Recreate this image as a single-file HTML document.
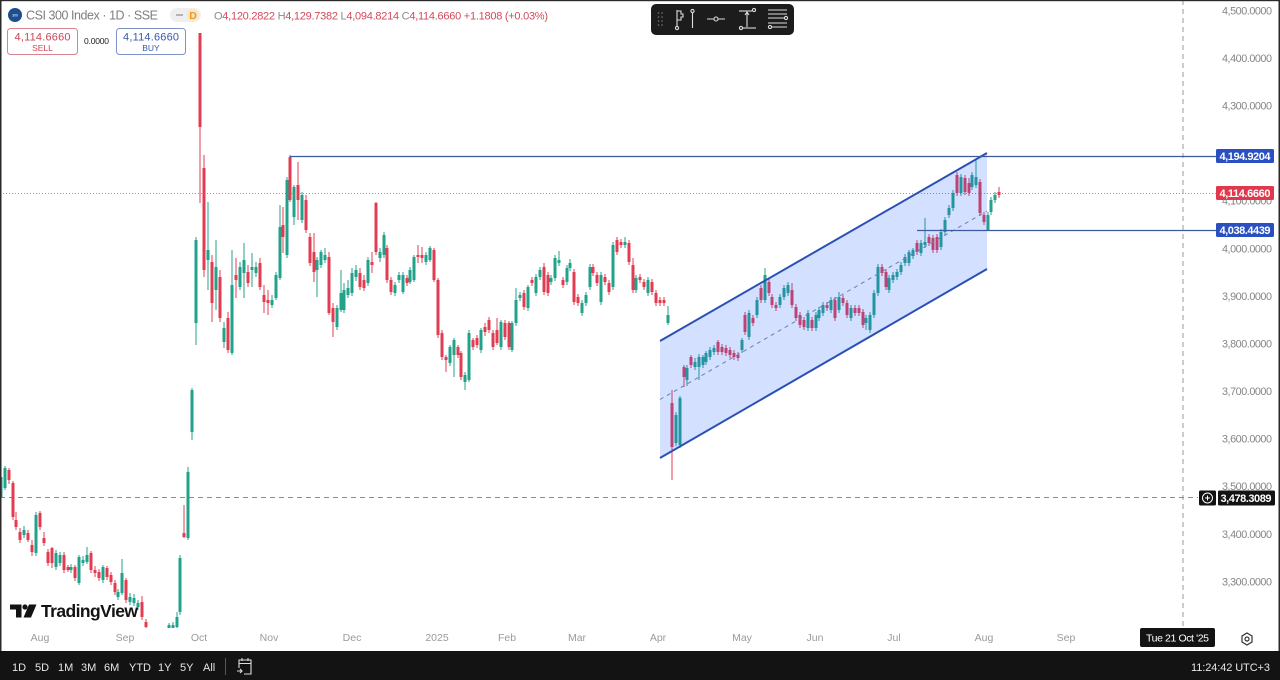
<!DOCTYPE html>
<html><head><meta charset="utf-8"><style>
html,body{margin:0;padding:0;background:#fff;}
svg{display:block;}
text{font-family:"Liberation Sans",sans-serif;}
</style></head><body>
<svg id="s" width="1280" height="680" viewBox="0 0 1280 680" xmlns="http://www.w3.org/2000/svg">
<defs><clipPath id="cp"><rect x="0" y="0" width="1214" height="628"/></clipPath></defs>
<rect x="0" y="0" width="1280" height="680" fill="#fff"/>
<!-- crosshair -->
<line x1="1183" y1="0" x2="1183" y2="628" stroke="#9a9a9a" stroke-width="1" stroke-dasharray="5,4"/>
<line x1="0" y1="497.5" x2="1198" y2="497.5" stroke="#8a8a8a" stroke-width="1" stroke-dasharray="5,4"/>
<!-- last price dotted -->
<line x1="0" y1="193.5" x2="1216" y2="193.5" stroke="#c77f8a" stroke-width="1" stroke-dasharray="1,2"/>
<g id="candles" clip-path="url(#cp)"></g>
<!-- channel -->
<polygon points="660,341 987,153 987,269 660,458" fill="rgba(41,98,255,0.2)"/>
<line x1="660" y1="341" x2="987" y2="153" stroke="#2b50b5" stroke-width="2"/>
<line x1="660" y1="458" x2="987" y2="269" stroke="#2b50b5" stroke-width="2"/>
<line x1="660" y1="399.5" x2="987" y2="211" stroke="#6a7fb0" stroke-width="1" stroke-dasharray="4,4"/>
<!-- horizontal lines -->
<line x1="290" y1="156.5" x2="1216" y2="156.5" stroke="#3d5a9e" stroke-width="1.3"/>
<line x1="917" y1="230.5" x2="1216" y2="230.5" stroke="#3d5a9e" stroke-width="1.3"/>
<!-- price axis labels -->
<g fill="#858585" font-size="10.8">
<text x="1222" y="14.4" textLength="50">4,500.0000</text>
<text x="1222" y="62" textLength="50">4,400.0000</text>
<text x="1222" y="109.6" textLength="50">4,300.0000</text>
<text x="1222" y="157.1" textLength="50">4,200.0000</text>
<text x="1222" y="204.7" textLength="50">4,100.0000</text>
<text x="1222" y="252.3" textLength="50">4,000.0000</text>
<text x="1222" y="299.9" textLength="50">3,900.0000</text>
<text x="1222" y="347.4" textLength="50">3,800.0000</text>
<text x="1222" y="395" textLength="50">3,700.0000</text>
<text x="1222" y="442.6" textLength="50">3,600.0000</text>
<text x="1222" y="490.2" textLength="50">3,500.0000</text>
<text x="1222" y="537.8" textLength="50">3,400.0000</text>
<text x="1222" y="585.4" textLength="50">3,300.0000</text>
</g>
<!-- price tags -->
<rect x="1216" y="149" width="58" height="14" rx="1.5" fill="#2a4fc0"/>
<text x="1245" y="160" fill="#fff" font-size="11" text-anchor="middle" textLength="51" style="font-weight:600">4,194.9204</text>
<rect x="1216" y="186" width="58" height="14" rx="1.5" fill="#e0394e"/>
<text x="1245" y="197" fill="#fff" font-size="11" text-anchor="middle" textLength="51" style="font-weight:600">4,114.6660</text>
<rect x="1216" y="223" width="58" height="14" rx="1.5" fill="#2a4fc0"/>
<text x="1245" y="234" fill="#fff" font-size="11" text-anchor="middle" textLength="51" style="font-weight:600">4,038.4439</text>
<rect x="1199" y="490.5" width="17" height="15" rx="1.5" fill="#131313"/>
<circle cx="1207.5" cy="498" r="5" fill="none" stroke="#fff" stroke-width="1"/>
<line x1="1205" y1="498" x2="1210" y2="498" stroke="#fff" stroke-width="1"/>
<line x1="1207.5" y1="495.5" x2="1207.5" y2="500.5" stroke="#fff" stroke-width="1"/>
<rect x="1218" y="490.5" width="57" height="15" rx="1.5" fill="#131313"/>
<text x="1246" y="502" fill="#fff" font-size="11" text-anchor="middle" textLength="51" style="font-weight:600">3,478.3089</text>
<!-- time axis -->
<g fill="#9a9a9a" font-size="10.5" text-anchor="middle">
<text x="40" y="641">Aug</text>
<text x="125" y="641">Sep</text>
<text x="199" y="641">Oct</text>
<text x="269" y="641">Nov</text>
<text x="352" y="641">Dec</text>
<text x="437" y="641">2025</text>
<text x="507" y="641">Feb</text>
<text x="577" y="641">Mar</text>
<text x="658" y="641">Apr</text>
<text x="742" y="641">May</text>
<text x="815" y="641">Jun</text>
<text x="894" y="641">Jul</text>
<text x="984" y="641">Aug</text>
<text x="1066" y="641">Sep</text>
</g>
<rect x="1140" y="628" width="75" height="19" rx="2" fill="#131313"/>
<text x="1177.5" y="641.5" fill="#fff" font-size="10.5" text-anchor="middle" textLength="63">Tue 21 Oct '25</text>
<polygon points="1247,633 1252,636 1252,642 1247,645 1242,642 1242,636" fill="none" stroke="#333" stroke-width="1.2"/>
<circle cx="1247" cy="639" r="2" fill="none" stroke="#333" stroke-width="1.2"/>
<!-- watermark -->
<g fill="#131313">
<path d="M10 604.5 H21.5 V617.5 H16 V609.5 H10 Z"/>
<circle cx="25" cy="607" r="2.6"/>
<path d="M29 604.5 H36.5 L31 617.5 H23.5 Z"/>
</g>
<text x="41" y="617" font-size="17.5" font-weight="bold" fill="#131313" textLength="97">TradingView</text>
<!-- header -->
<circle cx="15" cy="15" r="7" fill="#1c4f8f"/>
<text x="15" y="16.5" font-size="3.5" fill="#fff" text-anchor="middle">300</text>
<text x="26" y="19.5" font-size="12.5" fill="#7e7e7e" textLength="132">CSI 300 Index · 1D · SSE</text>
<rect x="170" y="8" width="31" height="14" rx="7" fill="#efefef"/>
<line x1="176" y1="15" x2="183" y2="15" stroke="#9a9a9a" stroke-width="1.4"/>
<circle cx="193" cy="15" r="6" fill="#fbe6bd"/>
<text x="193" y="19" font-size="10.5" font-weight="bold" fill="#e59a2a" text-anchor="middle">D</text>
<text x="214" y="19.5" font-size="11" textLength="334" fill="#d24a5a"><tspan fill="#8a8a8a">O</tspan>4,120.2822 <tspan fill="#8a8a8a">H</tspan>4,129.7382 <tspan fill="#8a8a8a">L</tspan>4,094.8214 <tspan fill="#8a8a8a">C</tspan>4,114.6660 +1.1808 (+0.03%)</text>
<rect x="7.5" y="28.5" width="70" height="26" rx="3" fill="#fff" stroke="#d98290" stroke-width="1"/>
<text x="42.5" y="40.5" font-size="11" fill="#cf4356" text-anchor="middle" textLength="56">4,114.6660</text>
<text x="42.5" y="51" font-size="8.5" fill="#cf4356" text-anchor="middle">SELL</text>
<text x="84" y="44" font-size="8.5" fill="#222" textLength="25">0.0000</text>
<rect x="116.5" y="28.5" width="69" height="26" rx="3" fill="#fff" stroke="#7d93c7" stroke-width="1"/>
<text x="151" y="40.5" font-size="11" fill="#3558b0" text-anchor="middle" textLength="56">4,114.6660</text>
<text x="151" y="51" font-size="8.5" fill="#3558b0" text-anchor="middle">BUY</text>
<!-- toolbar -->
<rect x="651" y="4" width="143" height="31" rx="5" fill="#1c1c1c"/>
<g fill="#777"><circle cx="658.5" cy="13" r="0.8"/><circle cx="662" cy="13" r="0.8"/><circle cx="658.5" cy="17" r="0.8"/><circle cx="662" cy="17" r="0.8"/><circle cx="658.5" cy="21" r="0.8"/><circle cx="662" cy="21" r="0.8"/><circle cx="658.5" cy="25" r="0.8"/><circle cx="662" cy="25" r="0.8"/></g>
<g fill="none" stroke="#ddd" stroke-width="1.1">
<path d="M677 10 V26 M677 11 H681 V14 H683 V17 H681 V20 H677"/>
<circle cx="677" cy="28" r="1.6"/>
<circle cx="692.5" cy="11" r="1.6"/><path d="M692.5 13 V28"/>
<path d="M707 19 H714 M718 19 H725"/><circle cx="716" cy="19" r="2"/>
<path d="M739 11 H752"/><circle cx="754" cy="10" r="1.6"/>
<path d="M747 12 V27 M745 15 L747 12 L749 15"/>
<path d="M743 28 H756"/><circle cx="741" cy="28" r="1.6"/>
<path d="M768 10 H787 M768 14 H787 M768 18 H784 M768 23 H787 M772 27 H787"/>
<circle cx="786" cy="18" r="1.6"/><circle cx="770" cy="27" r="1.6"/>
</g>
<!-- bottom bar -->
<rect x="0" y="651" width="1280" height="29" fill="#131313"/>
<g fill="#e6e6e6" font-size="11">
<text x="12" y="671">1D</text>
<text x="35" y="671">5D</text>
<text x="58" y="671">1M</text>
<text x="81" y="671">3M</text>
<text x="104" y="671">6M</text>
<text x="129" y="671">YTD</text>
<text x="158" y="671">1Y</text>
<text x="180" y="671">5Y</text>
<text x="203" y="671">All</text>
<text x="1191" y="671" textLength="79">11:24:42 UTC+3</text>
</g>
<line x1="225.5" y1="658" x2="225.5" y2="675" stroke="#555" stroke-width="1"/>
<g fill="none" stroke="#ddd" stroke-width="1.1">
<path d="M239 668 V660 H251 V674 H244"/>
<path d="M239 663.5 H251 M242 658 V661 M248 658 V661"/>
<path d="M237 671 H242 M240 669 L242 671 L240 673"/>
</g>
<!-- frame -->
<rect x="0" y="0" width="1.5" height="651" fill="#2a2a2a"/>
<rect x="0" y="0" width="1280" height="1.2" fill="#2a2a2a"/>
<rect x="1278.5" y="0" width="1.5" height="651" fill="#2a2a2a"/>
</svg>
<script>
(function(){
var D="1,g,477,497,472,500;5,g,468,488,466,490;9,r,470,480,468,484;13,r,483,517,481,520;16,r,520,527,512,530;20,r,532,540,528,543;24,g,530,535,526,538;28,r,533,540,530,542;32,r,545,552,540,556;36,g,515,553,512,556;40,r,513,527,511,530;44,r,538,543,532,546;48,r,552,563,549,566;52,r,548,563,547,568;56,g,553,567,550,570;60,g,555,563,552,566;64,r,555,570,552,573;68,r,567,570,565,572;71,g,567,570,564,573;75,r,567,578,565,581;79,g,557,583,555,585;83,g,560,563,556,566;87,g,555,562,547,564;91,r,553,570,551,573;95,r,570,573,566,577;99,r,572,578,569,581;103,g,567,580,565,583;107,r,568,577,566,580;111,r,575,582,572,585;115,r,583,592,580,595;118,g,592,597,589,600;122,g,573,593,559,595;126,r,580,600,578,603;130,g,597,602,593,605;134,g,598,603,594,606;138,g,603,607,600,610;142,r,602,617,596,620;146,r,622,627,619,640;169,g,625,630,623,640;173,g,625,632,622,640;177,g,617,627,612,632;180,g,558,612,555,615;184,r,533,537,505,538;188,g,472,538,467,540;192,g,390,432,388,440;196,g,240,323,237,345;200,r,33,127,33,203;204,r,168,270,155,277;208,g,250,260,202,290;212,r,262,303,255,322;216,g,267,290,240,310;220,r,277,318,270,322;224,g,328,342,322,348;228,r,318,350,312,353;232,g,285,353,250,355;236,r,275,280,258,298;240,g,267,287,262,290;244,g,260,273,243,298;248,r,272,283,265,287;252,g,267,270,253,287;256,g,267,273,262,277;260,r,263,287,258,290;264,r,295,302,285,313;268,r,300,303,290,315;272,g,300,305,295,308;276,g,275,298,272,300;280,g,227,278,205,280;283,r,225,237,207,253;287,g,180,255,177,258;290,r,157,200,155,202;294,g,187,217,185,225;298,r,185,200,162,220;302,g,195,220,192,223;306,r,200,230,195,233;310,r,237,263,233,266;314,r,252,272,233,282;317,g,260,270,257,297;321,g,252,265,250,268;325,g,255,260,248,263;329,r,257,313,252,315;333,r,308,322,303,337;337,g,308,327,305,330;341,g,293,310,270,312;344,g,290,310,283,313;348,g,288,295,280,298;352,g,273,293,268,296;356,g,270,277,265,281;360,r,273,287,268,290;364,r,280,288,275,291;368,g,260,283,257,286;372,r,262,265,252,273;376,r,203,252,202,255;380,g,252,258,248,262;384,g,235,255,232,258;387,r,248,280,245,283;391,r,280,292,277,295;395,g,285,293,282,296;399,g,275,280,272,283;403,g,275,292,272,294;407,r,278,283,275,286;410,g,270,282,267,284;414,g,257,280,255,282;418,r,255,257,245,263;422,r,255,258,247,263;426,g,255,262,252,265;430,g,248,260,246,262;434,r,250,280,248,282;438,r,280,335,278,338;442,r,333,357,330,360;446,r,357,360,355,372;450,g,347,363,345,366;454,g,340,355,338,377;458,r,347,355,345,358;461,r,353,377,351,380;465,g,375,382,372,390;469,g,333,380,330,382;473,r,340,347,338,350;477,r,338,345,335,348;481,g,330,350,328,353;485,r,327,332,323,336;489,r,320,330,317,333;493,r,333,347,330,350;497,r,330,343,318,345;501,g,322,347,320,350;505,r,323,337,320,340;509,r,323,347,321,350;512,g,323,350,321,352;516,g,300,323,288,326;520,g,295,298,292,301;524,r,293,307,290,310;528,g,287,308,285,311;532,r,280,283,277,286;536,g,277,293,274,296;540,g,270,277,267,280;544,r,267,292,263,295;548,r,275,293,272,296;551,g,278,282,275,285;555,g,258,278,255,281;559,g,260,263,251,266;563,r,280,285,277,288;567,g,268,282,265,285;570,g,263,268,259,271;574,r,272,302,269,305;578,r,297,303,294,306;582,g,303,313,300,316;586,g,295,303,292,306;590,g,267,287,264,290;593,r,267,273,264,276;597,r,275,283,272,286;601,g,275,302,272,305;605,r,277,282,274,285;609,r,283,292,280,295;613,g,245,287,242,290;617,r,240,252,237,255;621,r,242,245,239,248;625,g,242,245,237,248;629,r,243,262,240,265;633,r,265,290,258,293;636,g,278,290,275,293;640,r,277,280,274,283;644,r,282,287,279,290;648,g,280,293,277,296;652,r,282,292,279,295;656,r,293,303,290,306;660,r,300,303,297,306;664,r,300,303,297,306;668,g,315,323,306,325;672,r,403,447,390,480;676,g,415,443,412,446;680,g,398,445,396,448;684,r,367,377,365,387;687,g,368,380,365,386;691,r,357,365,355,368;695,g,362,367,358,370;699,g,357,367,354,380;703,g,357,365,355,368;706,g,353,362,351,365;710,g,350,357,347,360;714,g,348,352,345,355;718,r,342,352,340,355;722,r,347,352,344,355;726,r,348,353,345,356;730,r,350,355,347,358;734,r,353,357,350,360;738,r,355,358,352,361;742,g,340,350,338,353;745,r,315,332,312,335;749,g,313,337,310,340;753,r,318,323,315,326;757,g,300,315,297,318;761,r,288,300,285,303;765,g,275,300,268,303;769,r,282,293,279,296;772,r,297,305,294,308;776,r,305,308,302,311;780,g,297,305,294,308;784,g,288,297,285,300;788,g,285,293,282,296;792,r,290,305,283,308;796,r,307,318,304,321;800,r,315,325,312,328;804,r,320,327,317,330;808,g,313,328,310,331;812,r,320,328,317,331;816,g,315,328,312,331;819,g,310,318,307,321;823,g,305,313,302,316;827,r,305,308,302,311;831,g,300,310,297,313;835,r,300,318,297,321;839,g,297,310,292,313;843,r,298,303,295,306;847,r,303,315,300,318;851,g,308,318,305,321;855,r,308,313,305,316;859,r,308,313,305,316;863,r,312,325,309,328;866,g,318,323,315,330;870,g,315,330,312,333;874,g,293,315,290,318;878,g,267,293,264,296;882,r,267,273,264,276;886,r,272,287,269,290;889,g,278,290,275,293;893,g,275,280,272,283;897,g,272,277,269,280;901,g,265,272,262,275;905,g,257,263,254,266;909,g,252,263,250,266;913,g,250,256,248,259;917,r,243,252,240,255;921,g,243,253,240,256;925,g,242,245,218,248;929,r,237,243,234,246;933,r,238,250,235,253;937,r,237,250,234,253;941,g,232,247,229,250;945,g,220,232,217,235;949,g,208,215,205,218;953,g,193,208,190,211;957,r,175,193,172,196;961,g,177,193,174,196;965,r,178,192,175,195;969,r,183,193,178,196;972,g,175,187,172,190;976,g,177,185,160,188;980,r,182,213,179,216;984,r,215,222,212,225;988,g,215,230,212,231;991,g,200,212,197,215;995,g,195,200,192,203;999,r,192,195,187,198";
var g=document.getElementById("candles"),out="";
D.split(";").forEach(function(s){
var a=s.split(","),x=+a[0],c=a[1]=="g"?"#22a18b":"#e23c52",t=+a[2],b=+a[3],wt=+a[4],wb=+a[5];
if(b-t<1)b=t+1;
out+='<rect x="'+(x-0.5)+'" y="'+wt+'" width="1" height="'+(wb-wt)+'" fill="'+c+'"/>';
out+='<rect x="'+(x-1.5)+'" y="'+t+'" width="3" height="'+(b-t)+'" fill="'+c+'"/>';
});
g.innerHTML=out;
})();
</script>
</body></html>
